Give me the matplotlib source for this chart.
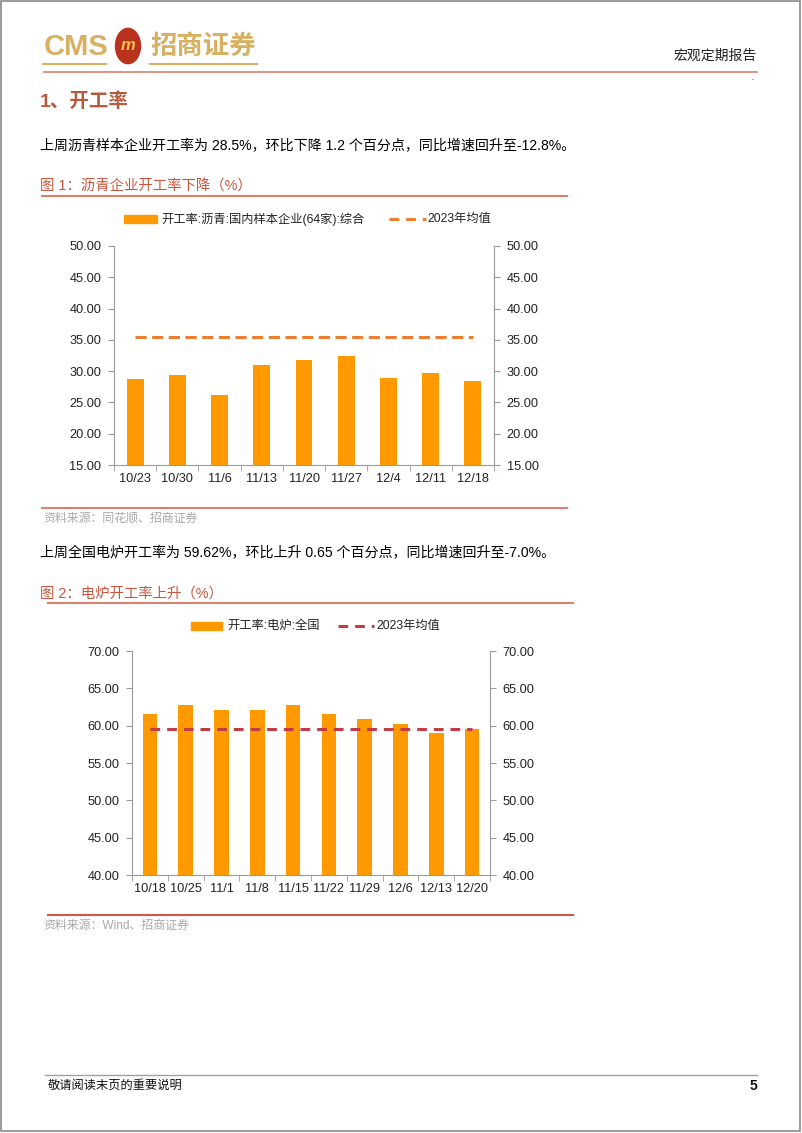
import matplotlib
matplotlib.use("Agg")
import matplotlib.pyplot as plt
from matplotlib.patches import Rectangle, Circle
from matplotlib.lines import Line2D

plt.rcParams['font.family'] = ['Liberation Sans', 'Noto Sans CJK SC', 'DejaVu Sans']
plt.rcParams['lines.scale_dashes'] = False

# chart 1: asphalt
dates1 = ['10/23', '10/30', '11/6', '11/13', '11/20', '11/27', '12/4', '12/11', '12/18']
rate1 = [28.7, 29.4, 26.2, 31.0, 31.8, 32.5, 28.9, 29.7, 28.5]
mean1 = 35.4
label1 = '开工率:沥青:国内样本企业(64家):综合'

# chart 2: electric furnace
dates2 = ['10/18', '10/25', '11/1', '11/8', '11/15', '11/22', '11/29', '12/6', '12/13', '12/20']
rate2 = [61.5, 62.8, 62.15, 62.15, 62.8, 61.5, 60.9, 60.25, 58.97, 59.62]
mean2 = 59.5
label2 = '开工率:电炉:全国'
mean_label = '2023年均值'

W, H = 802, 1133
fig = plt.figure(figsize=(W / 100, H / 100), dpi=100)


def fx(x):
    return x / W


def fy(y):
    return 1 - y / H


def hline(x0, x1, y, color, lw=1.2):
    fig.add_artist(Line2D([fx(x0), fx(x1)], [fy(y), fy(y)], color=color, lw=lw))


def txt(x, y, s, size, color='black', weight='normal', ha='left'):
    fig.text(fx(x), fy(y), s, fontsize=size, color=color, weight=weight, ha=ha, va='center')


# page border
fig.add_artist(Rectangle((fx(1), fy(1131)), fx(799), (1130) / H, fill=False, ec='#8a8a8a', lw=1.2))

# header
gold = '#D8B062'
txt(44, 47, 'CMS', 21, gold, 'bold')
fig.add_artist(Circle((fx(128), fy(46)), 12.5 / W, color='#B8321E', transform=fig.transFigure))
fig.text(fx(128), fy(46), 'm', fontsize=12, color='#F2C14E', weight='bold', ha='center', va='center', style='italic')
txt(150, 46, '招商证券', 19, gold, 'bold')
hline(43, 106, 64, gold, 1.5)
hline(150, 257, 64, gold, 1.5)
txt(757, 56, '宏观定期报告', 10, '#222222', ha='right')
hline(44, 757, 72, '#D9826F', 1.2)
txt(752, 80, '·', 8, '#333333', ha='center')

red_title = '#C8553D'
txt(40, 102, '1、开工率', 14, '#B65A3E', 'bold')
txt(40, 146, '上周沥青样本企业开工率为 28.5%，环比下降 1.2 个百分点，同比增速回升至-12.8%。', 10.1)
txt(40, 186, '图 1：沥青企业开工率下降（%）', 10.4, red_title)
hline(42, 567, 196, '#D9826F', 1.5)

bar_color = '#FF9900'
axis_gray = '#9a9a9a'
tick_font = 9.2
legend_font = 8.8


def setup_axes(ax, ymin, ymax, n):
    ax.set_ylim(ymin, ymax)
    ax.set_xlim(-0.5, n - 0.5)
    ax.set_yticks(range(ymin, ymax + 1, 5))
    ax.set_yticklabels([f'{v:.2f}' for v in range(ymin, ymax + 1, 5)], fontsize=tick_font, color='#222222')
    ax.spines['top'].set_visible(False)
    ax.spines['right'].set_visible(False)
    for s in ['left', 'bottom']:
        ax.spines[s].set_color(axis_gray)
    ax.tick_params(axis='y', direction='out', length=4, color=axis_gray, pad=5)
    ax.set_xticks([i - 0.5 for i in range(n + 1)], minor=True)
    ax.tick_params(axis='x', which='minor', direction='out', length=4, color=axis_gray)
    ax.tick_params(axis='x', which='major', length=0, pad=6, labelsize=tick_font, labelcolor='#222222')
    ax2 = ax.twinx()
    ax2.set_ylim(ymin, ymax)
    ax2.set_yticks(range(ymin, ymax + 1, 5))
    ax2.set_yticklabels([f'{v:.2f}' for v in range(ymin, ymax + 1, 5)], fontsize=tick_font, color='#222222')
    for s in ['top', 'left', 'bottom']:
        ax2.spines[s].set_visible(False)
    ax2.spines['right'].set_color(axis_gray)
    ax2.tick_params(axis='y', direction='out', length=4, color=axis_gray, pad=5)


# chart 1
ax1 = fig.add_axes([fx(114), fy(465), (494 - 114) / W, (465 - 246) / H])
x1 = list(range(len(dates1)))
ax1.bar(x1, [v - 15 for v in rate1], bottom=15, width=0.4, color=bar_color, zorder=2)
ax1.plot([x1[0], x1[-1]], [mean1, mean1], color='#ED7D31', lw=2.2, dashes=(8, 4), zorder=3)
ax1.set_xticks(x1)
ax1.set_xticklabels(dates1)
setup_axes(ax1, 15, 50, len(dates1))

# legend 1
fig.add_artist(Rectangle((fx(124), fy(223)), 33 / W, 8 / H, color=bar_color))
txt(161, 219, label1, legend_font, '#222222')
fig.add_artist(Line2D([fx(389), fx(426)], [fy(219), fy(219)], color='#ED7D31', lw=2.2, dashes=(7, 5)))
txt(427, 219, mean_label, legend_font, '#222222')

hline(42, 567, 508, '#D9826F', 1.5)
txt(43, 519, '资料来源：同花顺、招商证券', 8.6, '#A8A8A8')

txt(40, 553, '上周全国电炉开工率为 59.62%，环比上升 0.65 个百分点，同比增速回升至-7.0%。', 10.1)
txt(40, 594, '图 2：电炉开工率上升（%）', 10.4, red_title)
hline(48, 573, 603, '#D9826F', 1.5)

# chart 2
ax3 = fig.add_axes([fx(132), fy(875), (490 - 132) / W, (875 - 651) / H])
x2 = list(range(len(dates2)))
ax3.bar(x2, [v - 40 for v in rate2], bottom=40, width=0.41, color=bar_color, zorder=2)
ax3.plot([x2[0], x2[-1]], [mean2, mean2], color='#C23B47', lw=2.2, dashes=(7, 5), zorder=3)
ax3.set_xticks(x2)
ax3.set_xticklabels(dates2)
setup_axes(ax3, 40, 70, len(dates2))

# legend 2
fig.add_artist(Rectangle((fx(191), fy(630)), 31 / W, 8 / H, color=bar_color))
txt(227, 626, label2, legend_font, '#222222')
fig.add_artist(Line2D([fx(338), fx(374)], [fy(626), fy(626)], color='#C23B47', lw=2.2, dashes=(7, 5)))
txt(376, 626, mean_label, legend_font, '#222222')

hline(48, 573, 915, '#D9534A', 1.5)
txt(43, 926, '资料来源：Wind、招商证券', 8.6, '#A8A8A8')

# footer
hline(45, 757, 1075, '#A0A0A0', 1.0)
txt(48, 1086, '敬请阅读末页的重要说明', 8.8, '#111111')
txt(757, 1086, '5', 10, '#111111', 'bold', ha='right')

fig.savefig('out.png', dpi=100)
